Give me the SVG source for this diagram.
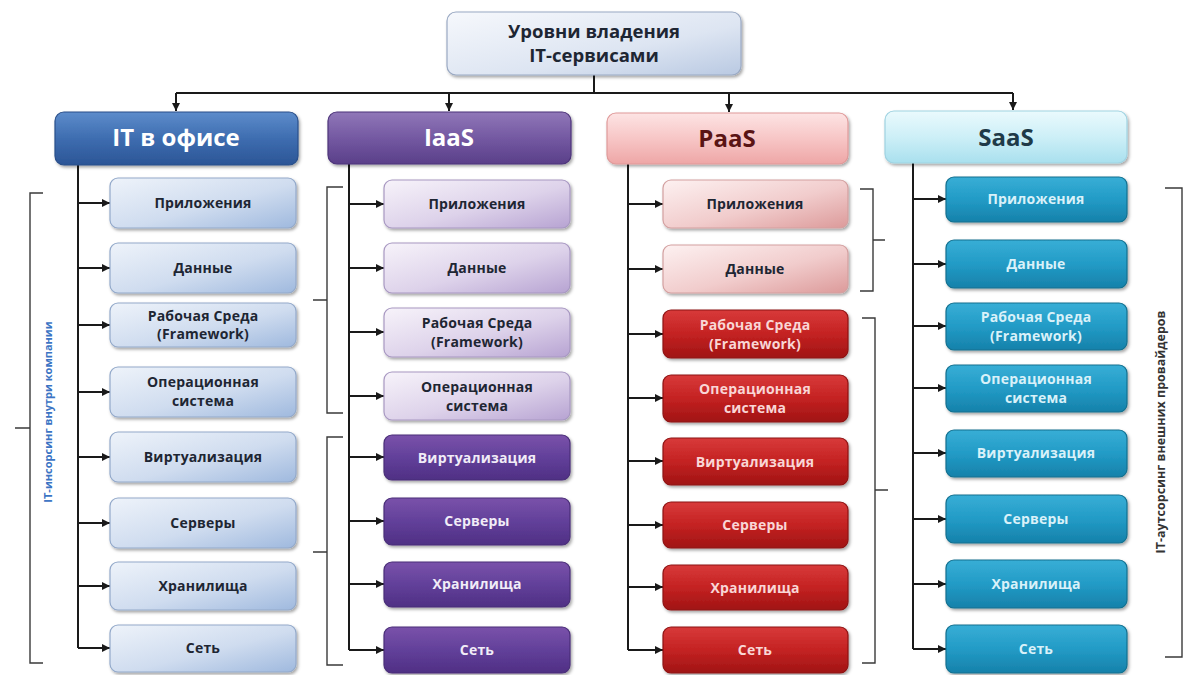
<svg xmlns="http://www.w3.org/2000/svg" width="1184" height="675" viewBox="0 0 1184 675">
<defs>
<style>
.t{font-family:"Open Sans","Liberation Sans",sans-serif;font-weight:bold;text-anchor:middle}
.c{font-size:14px;letter-spacing:0.2px}
.h{font-size:24px}
.dk{fill:#1e2633}
.wl{fill:#f1ecf7}
.rl{fill:#f9d6d6}
.bl{fill:#d9f1f9}
.ln{stroke:#1a1a1a;stroke-width:2;fill:none}
.br{stroke:#3a3a3a;stroke-width:1.4;fill:none}
.box{stroke-width:1.2}
</style>
<marker id="ah" viewBox="0 0 10 10" refX="10" refY="5" markerWidth="8" markerHeight="8" markerUnits="userSpaceOnUse" orient="auto"><path d="M0,0 L10,5 L0,10 z" fill="#1a1a1a"/></marker>
<filter id="sh" x="-10%" y="-10%" width="125%" height="140%"><feDropShadow dx="1.5" dy="2" stdDeviation="1.6" flood-color="#000" flood-opacity="0.35"/></filter>
<linearGradient id="gTop" x1="0" y1="0" x2="1" y2="1"><stop offset="0" stop-color="#f6f8fc"/><stop offset="0.6" stop-color="#dde5f2"/><stop offset="1" stop-color="#b9c9e2"/></linearGradient>
<linearGradient id="gH1" x1="0" y1="0" x2="0" y2="1"><stop offset="0" stop-color="#5d8ccb"/><stop offset="0.5" stop-color="#3e6db0"/><stop offset="1" stop-color="#2b5596"/></linearGradient>
<linearGradient id="gH2" x1="0" y1="0" x2="0" y2="1"><stop offset="0" stop-color="#9077b8"/><stop offset="0.5" stop-color="#7459a2"/><stop offset="1" stop-color="#5a3f89"/></linearGradient>
<linearGradient id="gH3" x1="0" y1="0" x2="0" y2="1"><stop offset="0" stop-color="#fde4e4"/><stop offset="0.5" stop-color="#f7c6c6"/><stop offset="1" stop-color="#eea6a6"/></linearGradient>
<linearGradient id="gH4" x1="0" y1="0" x2="0" y2="1"><stop offset="0" stop-color="#eafafd"/><stop offset="0.5" stop-color="#cdeff7"/><stop offset="1" stop-color="#a9e0ee"/></linearGradient>
<linearGradient id="gB1" x1="0" y1="0" x2="1" y2="1"><stop offset="0" stop-color="#eef3fa"/><stop offset="0.55" stop-color="#cfdcef"/><stop offset="1" stop-color="#9fb9de"/></linearGradient>
<linearGradient id="gP1" x1="0" y1="0" x2="1" y2="1"><stop offset="0" stop-color="#f7f3fa"/><stop offset="0.55" stop-color="#ddd2ea"/><stop offset="1" stop-color="#b7a3d2"/></linearGradient>
<linearGradient id="gP2" x1="0" y1="0" x2="0" y2="1"><stop offset="0" stop-color="#7a52aa"/><stop offset="0.5" stop-color="#62409a"/><stop offset="1" stop-color="#4f2f84"/></linearGradient>
<linearGradient id="gR1" x1="0" y1="0" x2="1" y2="1"><stop offset="0" stop-color="#fdf1f1"/><stop offset="0.55" stop-color="#f1cccc"/><stop offset="1" stop-color="#dc9a9a"/></linearGradient>
<linearGradient id="gR2" x1="0" y1="0" x2="0" y2="1"><stop offset="0" stop-color="#d83a3a"/><stop offset="0.5" stop-color="#c42222"/><stop offset="1" stop-color="#a01414"/></linearGradient>
<linearGradient id="gS1" x1="0" y1="0" x2="0" y2="1"><stop offset="0" stop-color="#38aed6"/><stop offset="0.5" stop-color="#229bc6"/><stop offset="1" stop-color="#1681aa"/></linearGradient>
</defs>
<rect width="1184" height="675" fill="#ffffff"/>

<g id="connectors">
<path class="ln" d="M594,75 V93 M176,93 H1013"/>
<path class="ln" d="M176,93 V111" marker-end="url(#ah)"/>
<path class="ln" d="M449,93 V111" marker-end="url(#ah)"/>
<path class="ln" d="M729,93 V112" marker-end="url(#ah)"/>
<path class="ln" d="M1013,93 V110" marker-end="url(#ah)"/>
<path class="ln" d="M78,165 V648 M349,164 V650 M628,164 V650 M913,163 V649"/>
<path class="ln" d="M78,203 H110" marker-end="url(#ah)"/>
<path class="ln" d="M78,268 H110" marker-end="url(#ah)"/>
<path class="ln" d="M78,325 H110" marker-end="url(#ah)"/>
<path class="ln" d="M78,392 H110" marker-end="url(#ah)"/>
<path class="ln" d="M78,457 H110" marker-end="url(#ah)"/>
<path class="ln" d="M78,523 H110" marker-end="url(#ah)"/>
<path class="ln" d="M78,586 H110" marker-end="url(#ah)"/>
<path class="ln" d="M78,648 H110" marker-end="url(#ah)"/>
<path class="ln" d="M349,204 H384" marker-end="url(#ah)"/>
<path class="ln" d="M349,268 H384" marker-end="url(#ah)"/>
<path class="ln" d="M349,332 H384" marker-end="url(#ah)"/>
<path class="ln" d="M349,396 H384" marker-end="url(#ah)"/>
<path class="ln" d="M349,457 H384" marker-end="url(#ah)"/>
<path class="ln" d="M349,521 H384" marker-end="url(#ah)"/>
<path class="ln" d="M349,584 H384" marker-end="url(#ah)"/>
<path class="ln" d="M349,650 H384" marker-end="url(#ah)"/>
<path class="ln" d="M628,204 H663" marker-end="url(#ah)"/>
<path class="ln" d="M628,269 H663" marker-end="url(#ah)"/>
<path class="ln" d="M628,334 H663" marker-end="url(#ah)"/>
<path class="ln" d="M628,398 H663" marker-end="url(#ah)"/>
<path class="ln" d="M628,461 H663" marker-end="url(#ah)"/>
<path class="ln" d="M628,525 H663" marker-end="url(#ah)"/>
<path class="ln" d="M628,587 H663" marker-end="url(#ah)"/>
<path class="ln" d="M628,650 H663" marker-end="url(#ah)"/>
<path class="ln" d="M913,199 H946" marker-end="url(#ah)"/>
<path class="ln" d="M913,264 H946" marker-end="url(#ah)"/>
<path class="ln" d="M913,326 H946" marker-end="url(#ah)"/>
<path class="ln" d="M913,388 H946" marker-end="url(#ah)"/>
<path class="ln" d="M913,453 H946" marker-end="url(#ah)"/>
<path class="ln" d="M913,519 H946" marker-end="url(#ah)"/>
<path class="ln" d="M913,584 H946" marker-end="url(#ah)"/>
<path class="ln" d="M913,649 H946" marker-end="url(#ah)"/>
</g>

<g id="brackets">
<path class="br" d="M43,193 H30 V663 H43 M30,428 H15"/>
<path class="br" d="M343,187 H327 V413 H343 M327,300 H313"/>
<path class="br" d="M343,437 H327 V665 H343 M327,552 H313" stroke="#9b3b3b"/>
<path class="br" d="M860,189 H873 V291 H860 M873,240 H885"/>
<path class="br" d="M862,318 H875 V663 H862 M875,490 H888"/>
<path class="br" d="M1165,188 H1182 V657 H1165" stroke="#8a5a5a"/>
<text class="t" font-size="11" fill="#3b74c4" transform="translate(52,412) rotate(-90)">IT-инсорсинг  внутри компании</text>
<text class="t" font-size="12.5" fill="#333333" transform="translate(1165,432) rotate(-90)">IT-аутсорсинг  внешних провайдеров</text>
</g>

<g id="root">
<rect x="447" y="12" width="294" height="63" rx="9" fill="url(#gTop)" stroke="#9aa9c3" class="box" filter="url(#sh)"/>
<text class="t dk" font-size="18.5" x="594" y="38">Уровни владения</text>
<text class="t dk" font-size="18.5" x="594" y="62">IT-сервисами</text>
</g>

<g id="col-it">
<g id="h-it"><rect x="55" y="112" width="243" height="53" rx="9" fill="url(#gH1)" stroke="#2a4f8a" class="box" filter="url(#sh)"/><text class="t h" fill="#ffffff" x="176" y="146">IT в офисе</text></g>
<g id="it-1"><rect x="110" y="178" width="186" height="50" rx="8" fill="url(#gB1)" stroke="#93a9ca" class="box" filter="url(#sh)"/><text class="t c dk" x="203" y="208">Приложения</text></g>
<g id="it-2"><rect x="110" y="243" width="186" height="50" rx="8" fill="url(#gB1)" stroke="#93a9ca" class="box" filter="url(#sh)"/><text class="t c dk" x="203" y="273">Данные</text></g>
<g id="it-3"><rect x="110" y="303" width="186" height="44" rx="8" fill="url(#gB1)" stroke="#93a9ca" class="box" filter="url(#sh)"/><text class="t c dk" x="203" y="321">Рабочая  Среда</text><text class="t c dk" x="203" y="339">(Framework)</text></g>
<g id="it-4"><rect x="110" y="367" width="186" height="50" rx="8" fill="url(#gB1)" stroke="#93a9ca" class="box" filter="url(#sh)"/><text class="t c dk" x="203" y="387">Операционная</text><text class="t c dk" x="203" y="406">система</text></g>
<g id="it-5"><rect x="110" y="432" width="186" height="50" rx="8" fill="url(#gB1)" stroke="#93a9ca" class="box" filter="url(#sh)"/><text class="t c dk" x="203" y="462">Виртуализация</text></g>
<g id="it-6"><rect x="110" y="498" width="186" height="50" rx="8" fill="url(#gB1)" stroke="#93a9ca" class="box" filter="url(#sh)"/><text class="t c dk" x="203" y="528">Серверы</text></g>
<g id="it-7"><rect x="110" y="562" width="186" height="48" rx="8" fill="url(#gB1)" stroke="#93a9ca" class="box" filter="url(#sh)"/><text class="t c dk" x="203" y="591">Хранилища</text></g>
<g id="it-8"><rect x="110" y="625" width="186" height="47" rx="8" fill="url(#gB1)" stroke="#93a9ca" class="box" filter="url(#sh)"/><text class="t c dk" x="203" y="653">Сеть</text></g>
</g>

<g id="col-iaas">
<g id="h-iaas"><rect x="328" y="112" width="243" height="52" rx="9" fill="url(#gH2)" stroke="#4d347a" class="box" filter="url(#sh)"/><text class="t h" fill="#ffffff" x="449" y="146">IaaS</text></g>
<g id="iaas-1"><rect x="384" y="180" width="186" height="48" rx="8" fill="url(#gP1)" stroke="#a898c2" class="box" filter="url(#sh)"/><text class="t c dk" x="477" y="209">Приложения</text></g>
<g id="iaas-2"><rect x="384" y="243" width="186" height="50" rx="8" fill="url(#gP1)" stroke="#a898c2" class="box" filter="url(#sh)"/><text class="t c dk" x="477" y="273">Данные</text></g>
<g id="iaas-3"><rect x="384" y="308" width="186" height="49" rx="8" fill="url(#gP1)" stroke="#a898c2" class="box" filter="url(#sh)"/><text class="t c dk" x="477" y="328">Рабочая  Среда</text><text class="t c dk" x="477" y="347">(Framework)</text></g>
<g id="iaas-4"><rect x="384" y="372" width="186" height="48" rx="8" fill="url(#gP1)" stroke="#a898c2" class="box" filter="url(#sh)"/><text class="t c dk" x="477" y="392">Операционная</text><text class="t c dk" x="477" y="411">система</text></g>
<g id="iaas-5"><rect x="384" y="435" width="186" height="45" rx="8" fill="url(#gP2)" stroke="#4a2e78" class="box" filter="url(#sh)"/><text class="t c wl" x="477" y="463">Виртуализация</text></g>
<g id="iaas-6"><rect x="384" y="498" width="186" height="47" rx="8" fill="url(#gP2)" stroke="#4a2e78" class="box" filter="url(#sh)"/><text class="t c wl" x="477" y="526">Серверы</text></g>
<g id="iaas-7"><rect x="384" y="562" width="186" height="45" rx="8" fill="url(#gP2)" stroke="#4a2e78" class="box" filter="url(#sh)"/><text class="t c wl" x="477" y="589">Хранилища</text></g>
<g id="iaas-8"><rect x="384" y="627" width="186" height="46" rx="8" fill="url(#gP2)" stroke="#4a2e78" class="box" filter="url(#sh)"/><text class="t c wl" x="477" y="655">Сеть</text></g>
</g>

<g id="col-paas">
<g id="h-paas"><rect x="607" y="113" width="241" height="51" rx="9" fill="url(#gH3)" stroke="#e09a9a" class="box" filter="url(#sh)"/><text class="t h" fill="#5a1414" x="727" y="147">PaaS</text></g>
<g id="paas-1"><rect x="663" y="180" width="185" height="48" rx="8" fill="url(#gR1)" stroke="#d3a0a0" class="box" filter="url(#sh)"/><text class="t c dk" x="755" y="209">Приложения</text></g>
<g id="paas-2"><rect x="663" y="245" width="185" height="48" rx="8" fill="url(#gR1)" stroke="#d3a0a0" class="box" filter="url(#sh)"/><text class="t c dk" x="755" y="274">Данные</text></g>
<g id="paas-3"><rect x="663" y="310" width="185" height="48" rx="8" fill="url(#gR2)" stroke="#8e1212" class="box" filter="url(#sh)"/><text class="t c rl" x="755" y="330">Рабочая  Среда</text><text class="t c rl" x="755" y="349">(Framework)</text></g>
<g id="paas-4"><rect x="663" y="375" width="185" height="47" rx="8" fill="url(#gR2)" stroke="#8e1212" class="box" filter="url(#sh)"/><text class="t c rl" x="755" y="394">Операционная</text><text class="t c rl" x="755" y="413">система</text></g>
<g id="paas-5"><rect x="663" y="438" width="185" height="47" rx="8" fill="url(#gR2)" stroke="#8e1212" class="box" filter="url(#sh)"/><text class="t c rl" x="755" y="467">Виртуализация</text></g>
<g id="paas-6"><rect x="663" y="502" width="185" height="46" rx="8" fill="url(#gR2)" stroke="#8e1212" class="box" filter="url(#sh)"/><text class="t c rl" x="755" y="530">Серверы</text></g>
<g id="paas-7"><rect x="663" y="565" width="185" height="45" rx="8" fill="url(#gR2)" stroke="#8e1212" class="box" filter="url(#sh)"/><text class="t c rl" x="755" y="593">Хранилища</text></g>
<g id="paas-8"><rect x="663" y="627" width="185" height="46" rx="8" fill="url(#gR2)" stroke="#8e1212" class="box" filter="url(#sh)"/><text class="t c rl" x="755" y="655">Сеть</text></g>
</g>

<g id="col-saas">
<g id="h-saas"><rect x="885" y="111" width="242" height="52" rx="9" fill="url(#gH4)" stroke="#9fd3e2" class="box" filter="url(#sh)"/><text class="t h" fill="#1f3a48" x="1006" y="146">SaaS</text></g>
<g id="saas-1"><rect x="946" y="177" width="181" height="45" rx="8" fill="url(#gS1)" stroke="#12708f" class="box" filter="url(#sh)"/><text class="t c bl" x="1036" y="204">Приложения</text></g>
<g id="saas-2"><rect x="946" y="240" width="181" height="48" rx="8" fill="url(#gS1)" stroke="#12708f" class="box" filter="url(#sh)"/><text class="t c bl" x="1036" y="269">Данные</text></g>
<g id="saas-3"><rect x="946" y="303" width="181" height="47" rx="8" fill="url(#gS1)" stroke="#12708f" class="box" filter="url(#sh)"/><text class="t c bl" x="1036" y="322">Рабочая  Среда</text><text class="t c bl" x="1036" y="341">(Framework)</text></g>
<g id="saas-4"><rect x="946" y="365" width="181" height="47" rx="8" fill="url(#gS1)" stroke="#12708f" class="box" filter="url(#sh)"/><text class="t c bl" x="1036" y="384">Операционная</text><text class="t c bl" x="1036" y="403">система</text></g>
<g id="saas-5"><rect x="946" y="430" width="181" height="47" rx="8" fill="url(#gS1)" stroke="#12708f" class="box" filter="url(#sh)"/><text class="t c bl" x="1036" y="458">Виртуализация</text></g>
<g id="saas-6"><rect x="946" y="495" width="181" height="48" rx="8" fill="url(#gS1)" stroke="#12708f" class="box" filter="url(#sh)"/><text class="t c bl" x="1036" y="524">Серверы</text></g>
<g id="saas-7"><rect x="946" y="560" width="181" height="48" rx="8" fill="url(#gS1)" stroke="#12708f" class="box" filter="url(#sh)"/><text class="t c bl" x="1036" y="589">Хранилища</text></g>
<g id="saas-8"><rect x="946" y="625" width="181" height="48" rx="8" fill="url(#gS1)" stroke="#12708f" class="box" filter="url(#sh)"/><text class="t c bl" x="1036" y="654">Сеть</text></g>
</g>
</svg>
